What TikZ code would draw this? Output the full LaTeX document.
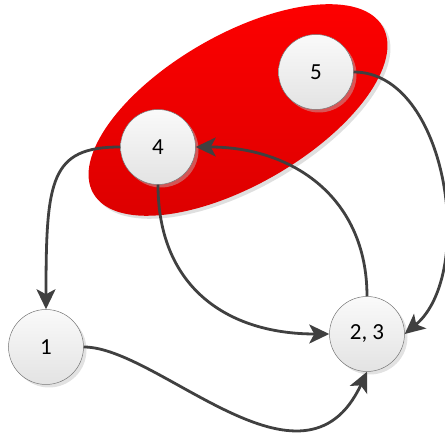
\documentclass[tikz,border=0pt]{standalone}
\usepackage{fontspec}
\setmainfont{Carlito}
\usetikzlibrary{shapes.geometric,shadows,arrows.meta}
\definecolor{linkgray}{RGB}{64,64,64}
\definecolor{rimgray}{RGB}{120,120,120}
\definecolor{groupred}{RGB}{255,0,0}
\definecolor{grouplow}{RGB}{220,0,0}

\begin{document}
\begin{tikzpicture}[x=1pt, y=1pt,
    group/.style={ellipse, rotate=30, minimum width=334pt, minimum height=150pt,
                  inner sep=0pt, top color=groupred, bottom color=grouplow,
                  drop shadow={shadow xshift=3pt, shadow yshift=-3pt, fill=black!25, opacity=0.5}},
    state/.style={circle, draw=rimgray, line width=0.5pt, minimum size=75pt, inner sep=0pt,
                  top color=white!98!black, bottom color=white!89!black,
                  font=\fontsize{23}{27}\selectfont,
                  drop shadow={shadow xshift=3pt, shadow yshift=-3pt, fill=black!25, opacity=0.45}},
    link/.style={draw=linkgray, line width=2.8pt,
                 -{Stealth[length=20pt, width=19pt, inset=5pt]}}]
  \useasboundingbox (0,0) rectangle (445,433);
  % group
  \node[group] (grp) at (238,323) {};
  % states
  \node[state] (n5)  at (316,361) {5};
  \node[state] (n4)  at (158,286) {4};
  \node[state] (n1)  at (46,86)   {1};
  \node[state] (n23) at (367,99)  {2, 3};
  % transitions
  \draw[link] (n4.west) .. controls +(-70,0) and +(0,130) .. (n1.north);
  \draw[link] (n4.south) to[out=-90, in=180, looseness=1.15] (n23.west);
  \draw[link] (n23.north) to[out=90, in=0, looseness=1.1] (n4.east);
  \draw[link] (n5.east) to[out=0, in=40, looseness=0.9] (n23.east);
  \draw[link] (n1.east) .. controls +(75,0) and +(-115:150) .. (n23.south);
\end{tikzpicture}
\end{document}
